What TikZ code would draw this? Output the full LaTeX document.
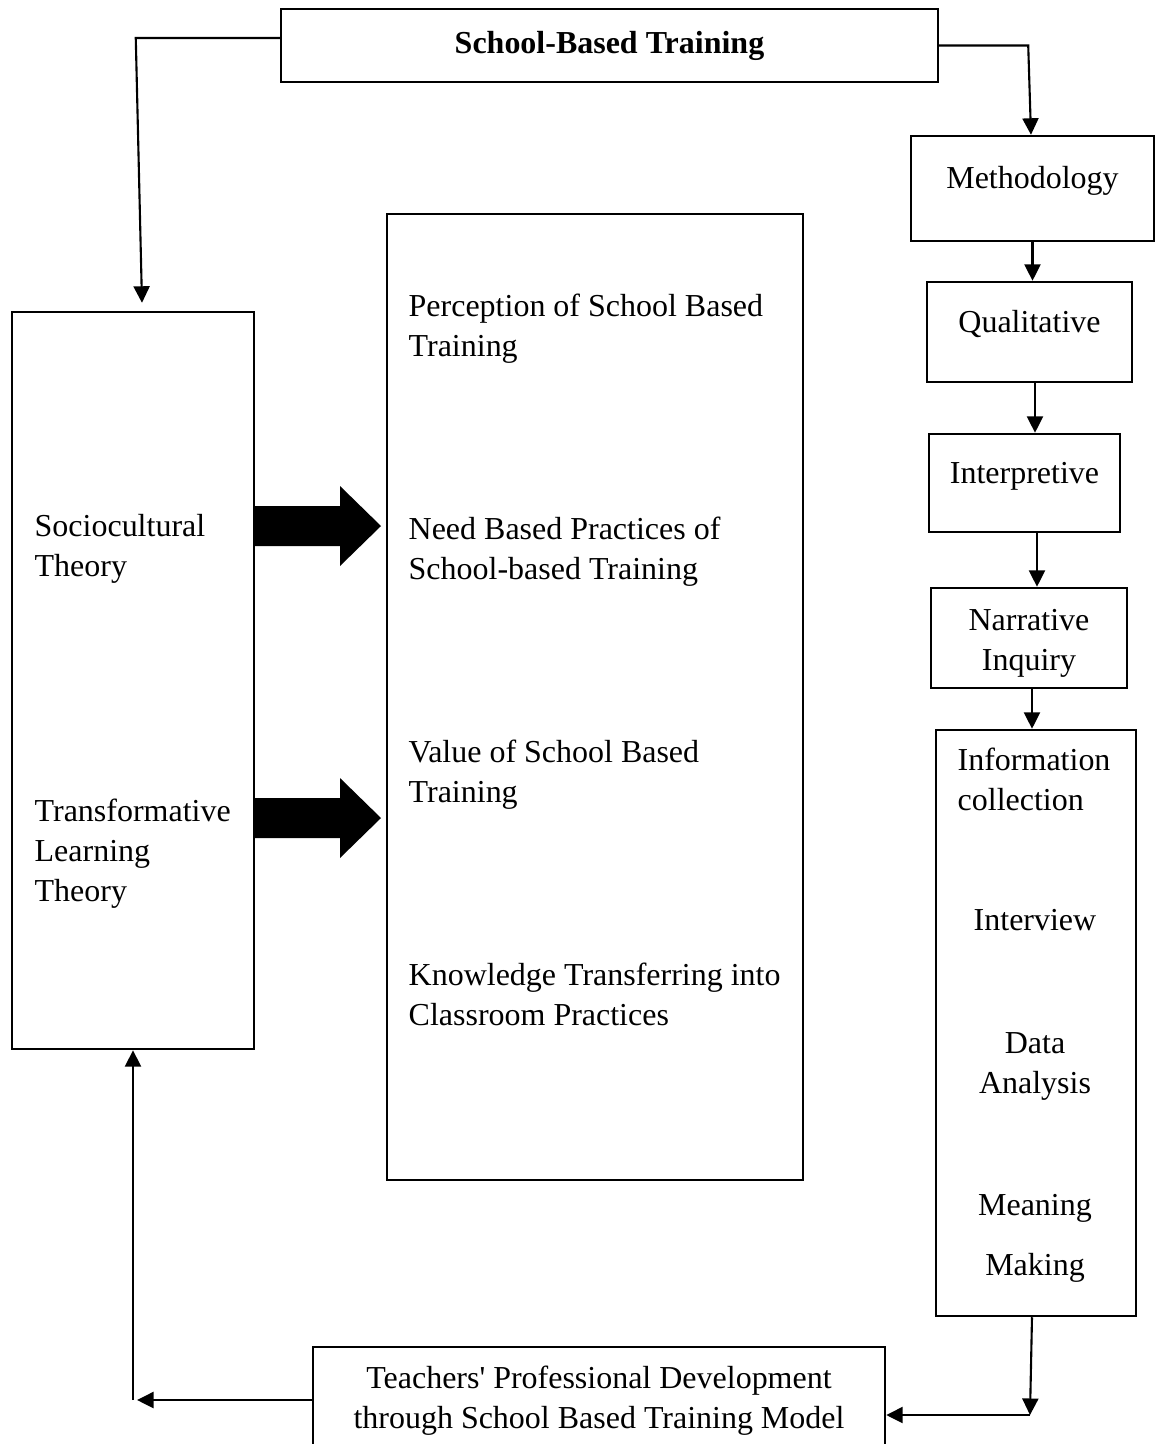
\documentclass[tikz,border=0pt]{standalone}
\usepackage{fontspec}
\setmainfont{Liberation Serif}[Ligatures=TeXOff]
\usetikzlibrary{arrows.meta,positioning,calc}

\begin{document}
\begin{tikzpicture}[
  x=0.1mm, y=-0.1mm,
  font=\fontsize{9.1}{11.38}\selectfont,
  box/.style={rectangle, draw, line width=0.7pt, inner sep=0pt, align=center},
  lifted/.style={text height=1.6ex, text depth=1.6ex},
  txt/.style={inner sep=0pt, align=left, anchor=north west},
  arrow/.style={-{Triangle[length=1.65mm, width=1.6mm]}, line width=0.6pt},
]
  \useasboundingbox (0,0) rectangle (1155,1444);
  \clip (0,0) rectangle (1155,1444);

  \node[box, minimum width=65.7mm, minimum height=7.3mm] (sbt) at (609.5,45.5)
    {\bfseries School-Based Training};

  \node[box, minimum width=24.2mm, minimum height=73.7mm] (theory) at (133,680.5) {};
  \node[box, minimum width=41.6mm, minimum height=96.6mm] (themes) at (595,697) {};

  \node[box, lifted, minimum width=24.3mm, minimum height=10.5mm] (method) at (1032.5,188.5) {Methodology};
  \node[box, lifted, minimum width=20.5mm, minimum height=10mm]   (qual)   at (1029.5,332)   {Qualitative};
  \node[box, lifted, minimum width=19.1mm, minimum height=9.8mm]  (interp) at (1024.5,483)   {Interpretive};
  \node[box, minimum width=19.6mm, minimum height=10mm, text height=7.2mm] (narr) at (1029,638) {Narrative\\Inquiry};
  \node[box, minimum width=20mm, minimum height=58.6mm]           (info)   at (1036,1023)    {};

  \node[box, minimum width=57.2mm, minimum height=10.8mm] (tpd) at (599,1401)
    {Teachers' Professional Development\\through School Based Training Model};

  \node[txt] (socio)    at (34,514)  {Sociocultural\\Theory};
  \node[txt] (transf)   at (34,798)  {Transformative\\Learning\\Theory};
  \node[txt] (percep)   at (408,293) {Perception of School Based\\Training};
  \node[txt] (need)     at (408,516) {Need Based Practices of\\School-based Training};
  \node[txt] (value)    at (408,739) {Value of School Based\\Training};
  \node[txt] (transfer) at (408,962) {Knowledge Transferring into\\Classroom Practices};

  \node[txt] (collect) at (957,747) {Information\\collection};
  \node[inner sep=0pt, anchor=base] (interview) at (1035,930) {Interview};
  \node[inner sep=0pt, anchor=north, align=center] (analysis) at (1035,1032) {Data\\Analysis};
  \node[inner sep=0pt, anchor=north, align=center] (meaning) at (1035,1194) {Meaning\\[2mm]Making};

  \foreach \y in {526,818}
    \fill (254,\y-20) -- (340,\y-20) -- (340,\y-40) -- (381,\y)
      -- (340,\y+40) -- (340,\y+20) -- (254,\y+20) -- cycle;

  \coordinate (br) at (1030,1415);
  \coordinate (bl) at (133,1400);

  \draw[arrow] ([yshift=0.75mm]sbt.west) -- ++(-144,0) -- ([xshift=0.9mm, yshift=0.8mm]theory.north);
  \draw[arrow] (sbt.east) -- ++(89,0) -- ([xshift=-0.15mm]method.north);
  \draw[arrow] (method.south) -- (method.south |- qual.north);
  \draw[arrow] ([xshift=0.55mm]qual.south) -- ([xshift=0.55mm]qual.south |- interp.north);
  \draw[arrow] ([xshift=1.25mm]interp.south) -- ([xshift=1.25mm]interp.south |- narr.north);
  \draw[arrow] ([xshift=0.3mm]narr.south) -- ([xshift=0.3mm]narr.south |- info.north);
  \draw[arrow] ([xshift=-0.4mm]info.south) -- (br);
  \draw[arrow] (br) -- (tpd.east |- br);
  \draw[arrow] (tpd.west |- bl) -- ([xshift=0.4mm]bl);
  \draw[arrow] (bl) -- (theory.south);
\end{tikzpicture}
\end{document}
